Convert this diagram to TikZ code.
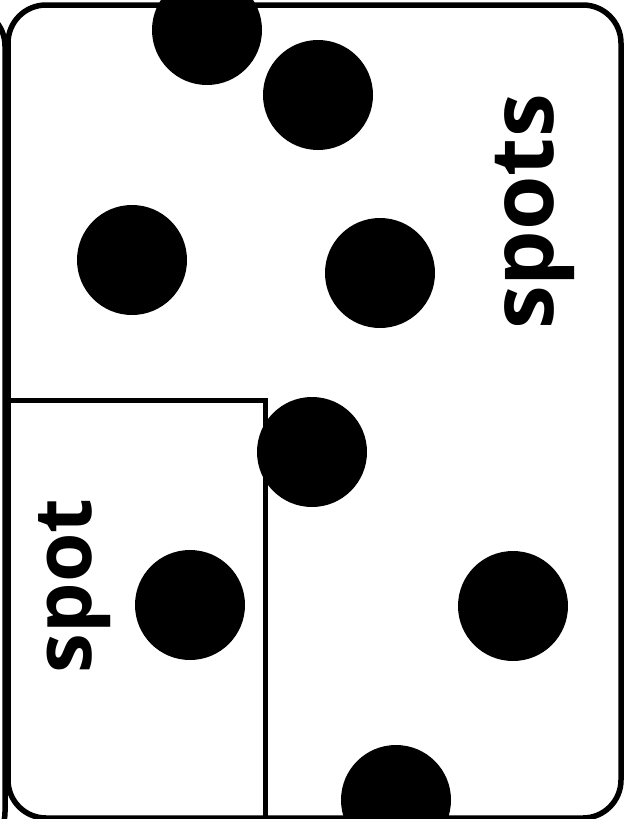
\documentclass[tikz,border=0pt]{standalone}
\usepackage{fontspec}
\usepackage{tikz}
\usetikzlibrary{positioning}
\newfontfamily\labelfont{Open Sans}
\tikzset{
  card/.style={draw=black, line width=5.5pt, rounded corners=38pt},
  pocket/.style={draw=black, line width=5pt},
  dot/.style={circle, fill=black, inner sep=0pt, minimum size=110pt},
  word/.style={font=\labelfont\bfseries, inner sep=0pt, rotate=90},
}
\begin{document}
\begin{tikzpicture}[x=1pt, y=-1pt]
  \useasboundingbox (0,0) rectangle (631,819);
  \clip (0,0) rectangle (631,819);

  % Cards
  \draw[card] (-300,8) rectangle (5,850);
  \draw[card] (8,5) rectangle (621,818);

  % Pocket for one spot
  \draw[pocket] (8,400) -- (265,400) -- (265,830);

  % Spots
  \foreach \name/\x/\y in {a/207/30, b/318/95, c/132/260, d/380/273,
                           e/312/452, f/190/605, g/513/606, h/396/800} {
    \node[dot] (dot\name) at (\x,\y) {};
  }

  % Labels
  \node[word, font=\labelfont\bfseries\fontsize{88}{88}\selectfont] (spots) at (535,212) {spots};
  \node[word, font=\labelfont\bfseries\fontsize{80}{80}\selectfont] (spot) at (75,586) {spot};

\end{tikzpicture}
\end{document}
